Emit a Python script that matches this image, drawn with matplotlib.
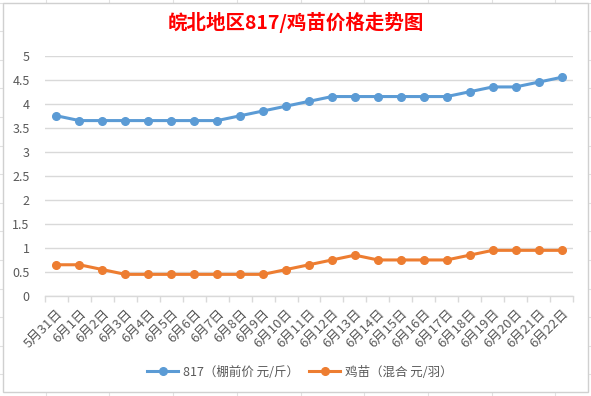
import matplotlib
matplotlib.use('Agg')
import matplotlib.pyplot as plt
from matplotlib.lines import Line2D
from matplotlib.patches import Rectangle
import numpy as np

plt.rcParams['font.family'] = ['Noto Sans CJK SC', 'DejaVu Sans']

# data
dates = ['5月31日'] + ['6月%d日' % d for d in range(1, 23)]
price_817 = [3.75, 3.65, 3.65, 3.65, 3.65, 3.65, 3.65, 3.65, 3.75, 3.85, 3.95, 4.05,
             4.15, 4.15, 4.15, 4.15, 4.15, 4.15, 4.25, 4.35, 4.35, 4.45, 4.55]
price_chick = [0.65, 0.65, 0.55, 0.45, 0.45, 0.45, 0.45, 0.45, 0.45, 0.45, 0.55, 0.65,
               0.75, 0.85, 0.75, 0.75, 0.75, 0.75, 0.85, 0.95, 0.95, 0.95, 0.95]
yticks = [0, 0.5, 1, 1.5, 2, 2.5, 3, 3.5, 4, 4.5, 5]
series_names = ['817（棚前价 元/斤）', '鸡苗（混合 元/羽）']

blue = '#5B9BD5'
orange = '#ED7D31'
grey_text = '#595959'
grid_c = '#D9D9D9'

W, H = 591, 396
fig = plt.figure(figsize=(W / 100, H / 100), dpi=100)

# spreadsheet cell grid behind the chart object
bg = fig.add_axes([0, 0, 1, 1])
bg.set_xlim(0, W)
bg.set_ylim(H, 0)
bg.axis('off')
for gx in np.arange(45.7, W, 63.7):
    bg.axvline(gx, color='#E1E1E1', lw=0.8, zorder=1)
for gy in np.arange(2.5, H, 28.6):
    bg.axhline(gy, color='#E1E1E1', lw=0.8, zorder=1)
bg.add_patch(Rectangle((3, 3), 585, 389, facecolor='white', edgecolor='#D0D0D0',
                       lw=1, zorder=5))

ax = fig.add_axes([45 / W, 1 - 296 / H, (573 - 45) / W, (296 - 55.7) / H])
ax.set_facecolor('none')
x = np.arange(len(dates))
ax.plot(x, price_817, color=blue, lw=2.2, marker='o', ms=5.5, zorder=3)
ax.plot(x, price_chick, color=orange, lw=2.2, marker='o', ms=5.5, zorder=3)

ax.set_xlim(-0.5, len(dates) - 0.5)
ax.set_ylim(0, 5)
ax.set_yticks(yticks)
ax.set_yticklabels(['%g' % v for v in yticks], fontsize=9, color=grey_text)
ax.yaxis.grid(True, color=grid_c, lw=1)
ax.set_axisbelow(True)
ax.tick_params(axis='y', length=0, pad=11)

ax.set_xticks(x)
ax.set_xticklabels(dates, rotation=45, ha='right', va='top', fontsize=9.5,
                   color=grey_text, rotation_mode='anchor')
ax.tick_params(axis='x', which='major', length=0, pad=8)
ax.set_xticks(np.arange(-0.5, len(dates)), minor=True)
ax.tick_params(axis='x', which='minor', length=4, color=grid_c, width=1)

for s in ['top', 'right', 'left']:
    ax.spines[s].set_visible(False)
ax.spines['bottom'].set_color(grid_c)
ax.spines['bottom'].set_linewidth(1)

fig.text(296 / W, 1 - 22 / H, '皖北地区817/鸡苗价格走势图', color='red', fontsize=14,
         fontweight='bold', ha='center', va='center')

handles = [Line2D([0], [0], color=blue, lw=2.2, marker='o', ms=5.5),
           Line2D([0], [0], color=orange, lw=2.2, marker='o', ms=5.5)]
fig.legend(handles, series_names, loc='center', bbox_to_anchor=(300 / W, 1 - 372 / H),
           ncol=2, frameon=False, fontsize=9, handlelength=2.5, columnspacing=0.8,
           handletextpad=0.4, labelcolor=grey_text)

fig.savefig('out.png', dpi=100)
